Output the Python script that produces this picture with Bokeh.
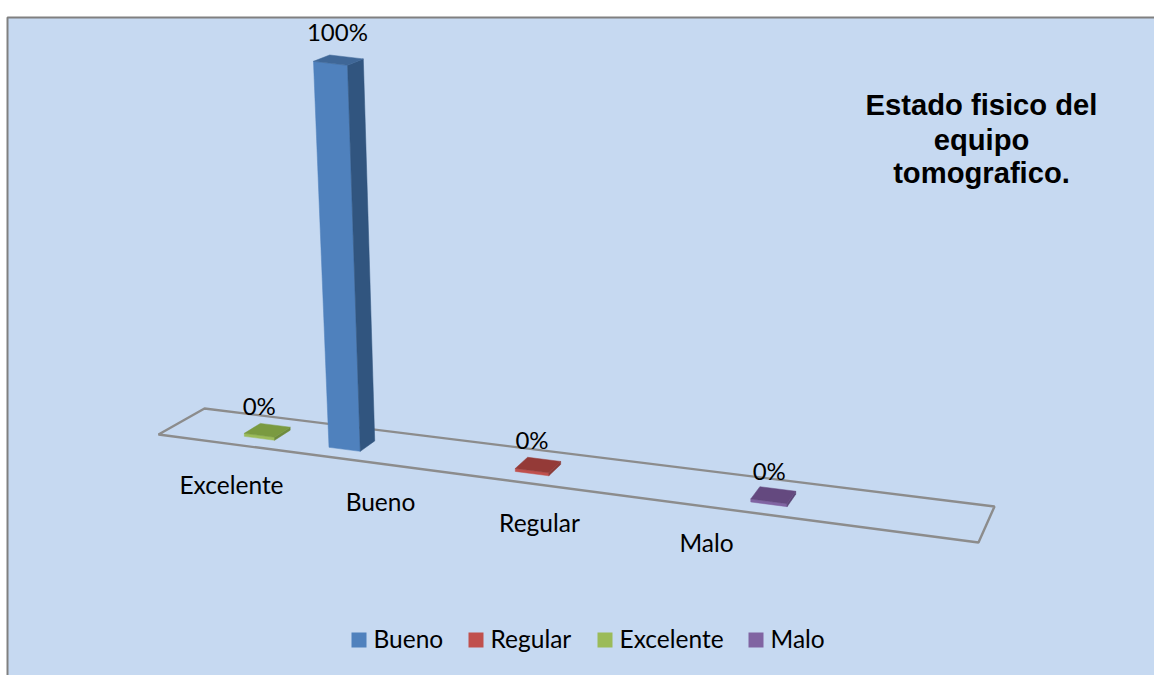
from bokeh.core.properties import value
from bokeh.embed import file_html
from bokeh.models import Range1d
from bokeh.plotting import figure
from bokeh.resources import INLINE

# Chart content
title_lines = ["Estado fisico del", "equipo", "tomografico."]
categories = ["Excelente", "Bueno", "Regular", "Malo"]
percentages = [0, 100, 0, 0]
legend_order = ["Bueno", "Regular", "Excelente", "Malo"]

# Position of each category along the floor (0 = left end, 1 = right end)
floor_u = [0.108, 0.213, 0.444, 0.736]
# Horizontal nudge of each value label from its column's centre
label_nudge = [-8, -1, -6, -4]

# front, top and side shades per category
shades = {
    "Bueno": ("#4F81BD", "#3F6797", "#31557F"),
    "Regular": ("#C0504D", "#943A37", "#8A3B38"),
    "Excelente": ("#9BBB59", "#7A9A40", "#6E8B3D"),
    "Malo": ("#8064A2", "#64497F", "#5A4575"),
}

W, H = 1154, 675
BG = "#C6D9F1"
LABEL_FONT = value("Lato")

p = figure(width=W, height=H, output_backend="svg", toolbar_location=None,
           x_range=Range1d(0, W), y_range=Range1d(H, 0),
           x_axis_type=None, y_axis_type=None, min_border=0,
           outline_line_color=None, background_fill_color="white",
           border_fill_color="white")
p.grid.visible = False

# Chart area with its left and top edge
p.quad(left=[7], right=[W], top=[17], bottom=[H], fill_color=BG, line_color=None)
p.line([7, 7, W], [H, 17, 17], line_color="#808080", line_width=2)

# Floor of the perspective scene, as front and back edges
FRONT_L, FRONT_R = (158, 434), (978, 542)
BACK_L, BACK_R = (204, 408), (994, 506)


def floor_point(u, v):
    fx = FRONT_L[0] + (FRONT_R[0] - FRONT_L[0]) * u
    fy = FRONT_L[1] + (FRONT_R[1] - FRONT_L[1]) * u
    bx = BACK_L[0] + (BACK_R[0] - BACK_L[0]) * u
    by = BACK_L[1] + (BACK_R[1] - BACK_L[1]) * u
    return fx + (bx - fx) * v, fy + (by - fy) * v


def lift(pt, pct, rise):
    # Columns keep a thin slab at zero and lean slightly as they rise
    x, y = pt
    dx = pct / 100 * (-13.6 + (x - 350) * 0.09)
    return x + dx, y - 3 - pct / 100 * rise


p.patch([FRONT_L[0], BACK_L[0], BACK_R[0], FRONT_R[0]],
        [FRONT_L[1], BACK_L[1], BACK_R[1], FRONT_R[1]],
        fill_color=None, line_color="#8C8C8C", line_width=2.4)

# Columns and their value labels
V_FRONT, V_BACK = 0.29, 0.66
RISE_FRONT, RISE_BACK = 383, 379
for name, pct, u, nudge in zip(categories, percentages, floor_u, label_nudge):
    half = (0.036 + 0.012 * u) / 2
    fl = floor_point(u - half, V_FRONT)
    fr = floor_point(u + half, V_FRONT)
    br = floor_point(u + half, V_BACK)
    bl = floor_point(u - half, V_BACK)
    tfl, tfr = lift(fl, pct, RISE_FRONT), lift(fr, pct, RISE_FRONT)
    tbr, tbl = lift(br, pct, RISE_BACK), lift(bl, pct, RISE_BACK)
    front, top, side = shades[name]
    faces = [([fl, fr, tfr, tfl], front), ([fr, br, tbr, tfr], side), ([tfl, tfr, tbr, tbl], top)]
    for poly, colour in faces:
        p.patch([c[0] for c in poly], [c[1] for c in poly], fill_color=colour,
                line_color=colour, line_width=0.5)
    cx = (tfl[0] + tbr[0]) / 2
    cy = (tfl[1] + tbr[1]) / 2
    gap = 29 if pct else 25
    p.text([cx + nudge], [cy - gap], text=[f"{pct}%"], text_font=LABEL_FONT, text_font_size="24px",
           text_color="#000000", text_align="center", text_baseline="middle")

# Category labels below the floor
p.text([231, 380, 539, 706], [484, 501, 522, 542], text=categories, text_font=LABEL_FONT,
       text_font_size="24.5px", text_color="#000000", text_align="center", text_baseline="middle")

# Legend row
swatch_left = [351, 468, 597, 748]
for name, x in zip(legend_order, swatch_left):
    p.quad(left=[x], right=[x + 15], top=[632], bottom=[647], fill_color=shades[name][0], line_color=None)
    p.text([x + 22], [638], text=[name], text_font=LABEL_FONT, text_font_size="24.5px",
           text_color="#000000", text_align="left", text_baseline="middle")

# Title block
p.text([981, 981, 981], [104, 139, 172], text=title_lines, text_font=value("Liberation Sans"),
       text_font_style="bold", text_font_size="29.2px", text_color="#000000",
       text_align="center", text_baseline="middle")

open("out.html", "w").write(file_html(p, INLINE))
